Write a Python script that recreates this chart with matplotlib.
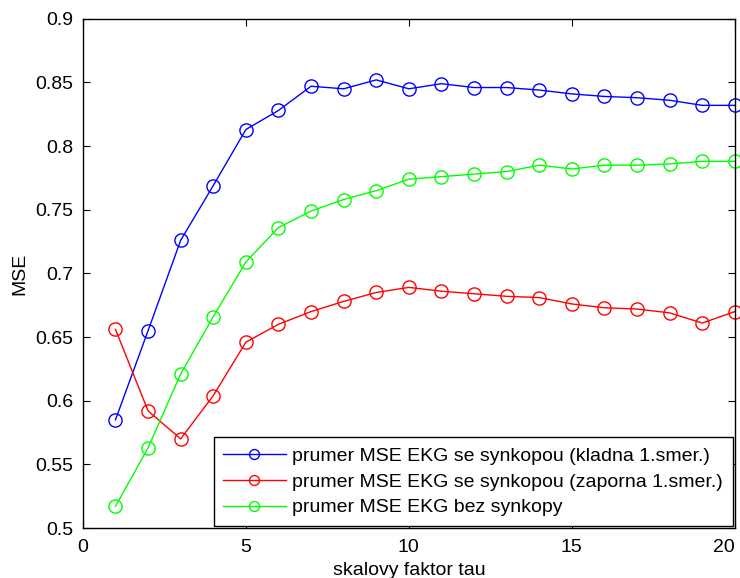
import matplotlib
import numpy as np

matplotlib.use("Agg")
import matplotlib.pyplot as plt  # noqa: E402

plt.rcParams["font.family"] = ["Liberation Sans", "DejaVu Sans"]

# Stredni hodnoty MSE pro jednotlive skalove faktory
tau = list(range(1, 21))
mse_kladna = [0.585, 0.655, 0.726, 0.769, 0.813, 0.828, 0.847, 0.845, 0.852, 0.845,
              0.849, 0.846, 0.846, 0.844, 0.841, 0.839, 0.838, 0.836, 0.832, 0.832]
mse_zaporna = [0.656, 0.592, 0.570, 0.604, 0.646, 0.660, 0.670, 0.678, 0.685, 0.689,
               0.686, 0.684, 0.682, 0.681, 0.676, 0.673, 0.672, 0.669, 0.661, 0.670]
mse_bez = [0.517, 0.563, 0.621, 0.666, 0.709, 0.736, 0.749, 0.758, 0.765, 0.774,
           0.776, 0.778, 0.780, 0.785, 0.782, 0.785, 0.785, 0.786, 0.788, 0.788]

labels = [
    "prumer MSE EKG se synkopou (kladna 1.smer.)",
    "prumer MSE EKG se synkopou (zaporna 1.smer.)",
    "prumer MSE EKG bez synkopy",
]
yticklabels = ["0.5", "0.55", "0.6", "0.65", "0.7", "0.75", "0.8", "0.85", "0.9"]

fig = plt.figure(figsize=(7.4, 5.78), dpi=100)
ax = fig.add_axes([0.112, 0.0865, 0.881, 0.881])

for vals, col, lab in zip([mse_kladna, mse_zaporna, mse_bez],
                          ["#0000ff", "#ff0000", "#00ff00"], labels):
    ax.plot(tau, vals, color=col, lw=1.0, marker="o", ms=9.5,
            mfc="none", mec=col, mew=1.0, label=lab, clip_on=False)

ax.set_xlim(0, 20)
ax.set_ylim(0.5, 0.9)
ax.set_xticks(np.arange(0, 21, 5))
ax.set_yticks(np.arange(0.5, 0.91, 0.05))
ax.set_yticklabels(yticklabels)
ax.tick_params(direction="in", top=True, right=True, labelsize=14, length=5)
ax.tick_params(axis="y", pad=7)
ax.tick_params(axis="x", pad=8)
# posledni popisek osy x zarovnat doprava, aby se vesel do obrazku
ax.get_xticklabels()[-1].set_horizontalalignment("right")
ax.get_xticklabels()[-1].set_x(20.05)
ax.set_xlabel("skalovy faktor tau", fontsize=14, labelpad=4)
ax.set_ylabel("MSE", fontsize=14, labelpad=5)
for s in ax.spines.values():
    s.set_linewidth(1.0)

leg = ax.legend(loc="lower right", fontsize=14, fancybox=False, framealpha=1,
                edgecolor="black", borderaxespad=0.1, handlelength=3.2,
                handletextpad=0.35, labelspacing=0.42, borderpad=0.5,
                markerscale=0.75)
leg.get_frame().set_linewidth(1.0)

fig.savefig("out.png", dpi=100)
